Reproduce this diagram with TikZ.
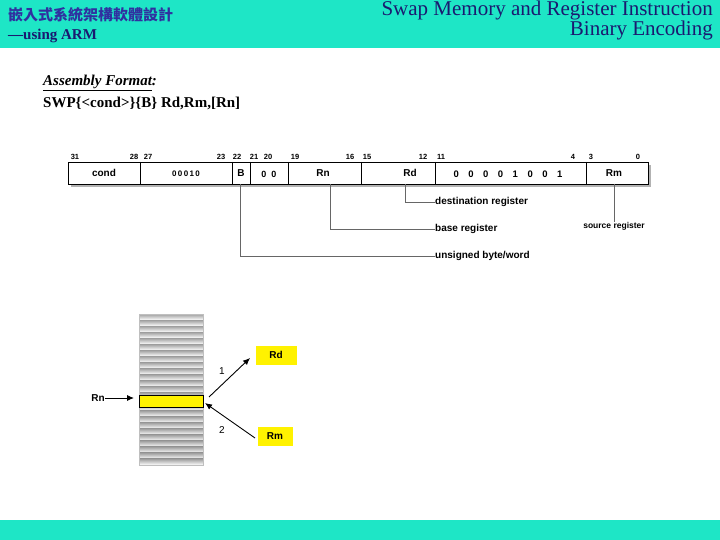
\documentclass[tikz,border=0pt]{standalone}
\usepackage{fontspec}
\setmainfont{Liberation Serif}
\setsansfont{Liberation Sans}
\newfontfamily\cjk{Noto Sans CJK TC}
\usetikzlibrary{arrows.meta}
\definecolor{teal}{HTML}{1EE6C6}
\definecolor{navy}{HTML}{1A1A70}
\definecolor{cjkblue}{HTML}{3030A0}
\definecolor{yel}{HTML}{FFF200}
\begin{document}
\begin{tikzpicture}[x=1pt,y=-1pt,
  lbl/.style={font=\sffamily\bfseries\fontsize{10}{12}\selectfont,inner sep=0pt},
  num/.style={font=\sffamily\bfseries\fontsize{7.5}{9}\selectfont,inner sep=0pt},
  fld/.style={font=\sffamily\bfseries\fontsize{10}{12}\selectfont,inner sep=0pt},
  lead/.style={draw=gray!80!black,line width=0.9pt},
  arr/.style={-{Latex[length=7pt,width=6pt]},line width=0.9pt}]
\useasboundingbox (0,0) rectangle (720,540);
\fill[white] (0,0) rectangle (720,540);
\fill[teal] (0,0) rectangle (720,48);
\fill[teal] (0,520) rectangle (720,540);
\node[anchor=west,inner sep=0pt,text=cjkblue] (cn) at (8,15) {\cjk\bfseries\fontsize{15}{18}\selectfont 嵌入式系統架構軟體設計};
\node[anchor=west,inner sep=0pt,text=navy] (arm) at (8,36) {\bfseries\fontsize{15}{18}\selectfont ---using ARM};
\node[anchor=north east,align=right,inner sep=0pt,text=navy] (title) at (713,1) {\fontsize{21}{28}\selectfont Swap Memory and Register Instruction\\\fontsize{21}{28}\selectfont Binary Encoding};
\node[anchor=west,inner sep=0pt] (af) at (43,83) {\bfseries\itshape\fontsize{15}{18}\selectfont \underline{Assembly Format}:};
\node[anchor=west,inner sep=0pt] (sw) at (43,103) {\bfseries\fontsize{15}{18}\selectfont SWP\{<cond>\}\{B\} Rd,Rm,[Rn]};
% register box
\fill[gray!60] (71,165) rectangle (651,187);
\draw[fill=white,line width=0.6pt] (68,162) rectangle (648,184);
\foreach \x in {140,232,250,288,361,435,586} \draw[line width=0.6pt] (\x,162) -- (\x,184);
\node[fld] (fcond) at (104,173) {cond};
\node[fld,font=\sffamily\bfseries\fontsize{8}{9}\selectfont] (fop) at (186,174) {0\,0\,0\,1\,0};
\node[fld] (fb) at (241,173) {B};
\node[fld,font=\sffamily\bfseries\fontsize{9}{10}\selectfont] (fz) at (269,174) {0\;\;0};
\node[fld] (frn) at (323,173) {Rn};
\node[fld] (frd) at (410,173) {Rd};
\node[fld,font=\sffamily\bfseries\fontsize{9.5}{10}\selectfont] (fbits) at (508,174) {0\quad0\quad0\quad0\quad1\quad0\quad0\quad1};
\node[fld] (frm) at (614,173) {Rm};
\foreach \x/\t in {75/31,134/28,148/27,221/23,237/22,254/21,268/20,295/19,350/16,367/15,423/12,441/11,573/4,591/3,638/0}
  \node[num] at (\x,157) {\t};
% leaders
\node[lbl,anchor=west] (dest) at (435,202) {destination register};
\node[lbl,anchor=west] (base) at (435,229) {base register};
\node[lbl,anchor=west] (ubw) at (435,256) {unsigned byte/word};
\node[lbl,anchor=north,font=\sffamily\bfseries\fontsize{8.5}{10}\selectfont] (src) at (614,222) {source register};
\draw[lead] (405,184) |- (dest.west);
\draw[lead] (330,184) |- (base.west);
\draw[lead] (240,184) |- (ubw.west);
\draw[lead] (614,184) -- (src.north);
% memory
\foreach \i in {0,...,24} {
  \shade[top color=gray!75,bottom color=white] (139,314+\i*6.04) rectangle (203,314+\i*6.04+6.04);
}
\draw[gray!50] (139,314) rectangle (203,465);
\draw[fill=yel] (139,395) rectangle (203,407);
\coordinate (cell) at (203,401);
\node[lbl] (rnl) at (98,398) {Rn};
\draw[arr] (rnl.east) -- (134,398);
\node[lbl,fill=yel,minimum width=41pt,minimum height=19pt] (rd) at (276,355) {Rd};
\node[lbl,fill=yel,minimum width=35pt,minimum height=19pt] (rm) at (275,436) {Rm};
\draw[arr] (209,397) -- (250,358);
\draw[arr] (255,438) -- (205,403);
\node[lbl,font=\sffamily\fontsize{10}{12}\selectfont] (one) at (222,371) {1};
\node[lbl,font=\sffamily\fontsize{10}{12}\selectfont] (two) at (222,430) {2};
\end{tikzpicture}
\end{document}
